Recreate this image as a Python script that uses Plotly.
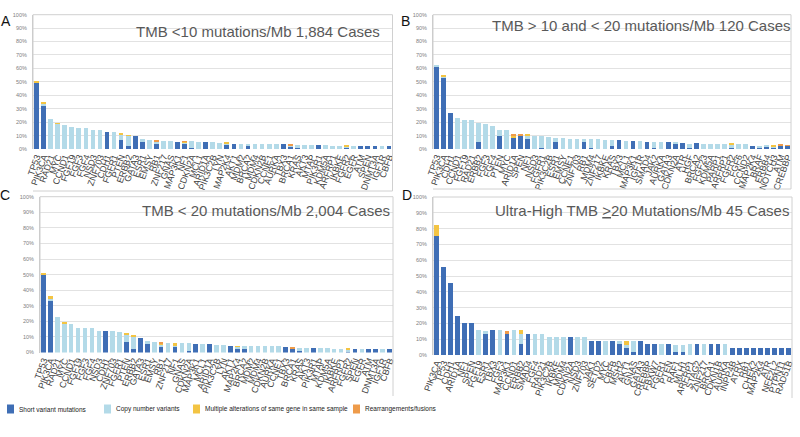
import plotly.graph_objects as go

# ---------------- DATA ----------------
genes_a = ["TP53","PIK3CA","RAD21","MYC","CCND1","FGF19","FGF3","FGF4","NSD3","ZNF703","CDH1","FGFR1","PTEN","ERBB2","GATA3",
           "ESR1","EMSY","RB1","ZNF217","GNAS","MAP3K1","NF1","CDKN2A","MCL1","ARID1A","PIK3C2B","LYN","MAP2K4","AKT1","MDM2",
           "BRCA2","MDM4","CDKN2B","CCNE1","AURKA","TBX3","BRCA1","KRAS","AKT3","MTAP","PIK3R1","KDM5A","ARFRP1","IKBKE","FGFR2",
           "EGFR","ATM","SPEN","DNMT3A","IGF1R","CBFB"]
short_a = [50,32,0,0,0,0,0,0,0,0,13,0,7,2.5,9.5,5.5,0,3.5,0,0,5.5,4,1,0,5,0,0,3,4,0,3,0,0,0,0,3.5,2,1,0,0,3,0,0,0,0.5,0,2.5,2.5,2,0,2]
cnv_a   = [0,1.5,22.5,19,18,16.5,16,16,14.5,14,0,13,4,7.5,0,2,7,2,6,6,0,1,5,5.5,0,5,4.5,1.5,0,4,1,4,4,4,4,0,1,2,3,3,0,3,2.5,2.5,1.5,2.5,0,0,0,2,0]
multi_a = [0.3,1.5,0,0.3,0,0,0,0,0,0,0,0,1,0.5,0,0,0,0.5,0,0,0,0.7,0,0,0,0,0,0.3,0,0,0,0,0,0,0,0,0,0,0,0,0,0,0,0,0.5,0,0,0,0,0,0]
rearr_a = [0,0,0,0,0,0,0,0,0,0,0,0,0,0,0,0,0,0.5,0,0,0,0.3,0,0,0,0,0,0,0,0,0,0,0,0,0,0,0.5,0,0,0,0,0,0,0,0,0,0,0,0,0,0]

genes_b = ["TP53","PIK3CA","CDH1","CCND1","FGF19","RAD21","ERBB2","FGF3","FGF4","PTEN","MYC","ARID1A","SPEN","NF1","NSD3",
           "FGFR1","PIK3C2B","ESR1","EMSY","CCNE1","ZNF703","RB1","MDM4","ZNF217","IKBKE","KRAS","TBX3","MCL1","MAP3K1","IGF1R",
           "SMAD4","JAK2","AURKA","GATA3","CDKN2A","ATR","HGF","BRCA2","FGF23","KDM5A","PARP1","ARFRP1","FGFR2","FGF6","CCND2",
           "MAP2K4","BRAF","ERBB4","NOTCH3","ATM","CREBBP"]
short_b = [62,52.5,27,0,0,0,5.5,0,0,10,0,8.5,10,7.5,0,0.5,0,5,0,0,0,5.5,0.5,0,0,2.5,6.5,0,6,0,5.5,1,0,5,4,4.5,0.5,4.5,0,0,0,0,1,0,0,2.5,1.5,2,0.5,2.5,2.5]
cnv_b   = [0.5,1.5,0,23,21.5,21.5,14,18.5,17.5,4,14,0.5,0,2.5,10,9.5,9,3,8,7.5,7.5,2,7,7.5,6.5,4,0,6,0,6,0,4,5,0,1,0,3.5,0,4,4,4,4,2,3.5,3.5,0,1,1,1.5,0,0]
multi_b = [0,1,0,0,0,0,0,0,0,0,0,1,0.5,1,0,0,0,0,0,0,0,0,0,0,0,0,0,0,0,0,0,0,0,0,0,0,0,0,0,0,0,0,1.5,0,0,0,0,0,1,0.5,0]
rearr_b = [0,0,0,0,0,0,0,0,0,0,0,1,0.5,0,0,0,0,0,0,0,0,0,0,0,0,0,0,0,0,0,0,0,0,0,0,0,0,0,0,0,0,0,0,0,0,0,0,0,0,0.3,0.5]

genes_c = ["TP53","PIK3CA","RAD21","MYC","CCND1","FGF19","FGF3","FGF4","NSD3","CDH1","ZNF703","FGFR1","PTEN","ERBB2","GATA3",
           "ESR1","EMSY","RB1","ZNF217","NF1","GNAS","CDKN2A","MAP3K1","MCL1","ARID1A","PIK3C2B","LYN","AKT1","MAP2K4","BRCA2",
           "MDM2","MDM4","CDKN2B","AURKA","CCNE1","TBX3","BRCA1","KRAS","AKT3","PIK3R1","MTAP","KDM5A","IKBKE","ARFRP1","FGFR2",
           "SPEN","EGFR","ATM","DNMT3A","IGF1R","CBFB"]
short_c = [50,33,0,0,0,0,0,0,0,13.5,0,0,7,2.5,9.5,5.5,0,3.5,0,4,0,1,5.5,0,5.5,0,0,4,3,3,0,0,0,0,0,3.5,2.5,1,0,3,0,0,0,0,0.5,2.5,0,2.5,2.5,0,2]
cnv_c   = [0.5,1.5,22.5,19,18,16,15.5,15.5,14,0,13.5,13,5,8,0,2,7,2,6,1,6,5,0,5.5,0,5,4.5,0,1,1,4,4,4,4,4,0,0.5,2,3,0,3,3,2.5,2.5,1.5,0,2.5,0,0,2,0]
multi_c = [0.5,1.5,0,0.3,0,0,0,0,0,0,0,0,0.5,0.3,0,0,0,0.5,0,1,0,0,0,0,0,0,0,0,0.3,0,0,0,0,0,0,0,0,0,0,0,0,0,0,0,0.5,0,0,0,0,0,0]
rearr_c = [0,0,0,0,0,0,0,0,0,0,0,0,0,0,0,0,0,0.5,0,0,0,0,0,0,0,0,0,0,0,0,0,0,0,0,0,0,0.5,0,0,0,0,0,0,0,0,0,0,0,0,0,0]

genes_d = ["PIK3CA","TP53","CDH1","ARID1A","NF1","SPEN","FGF19","ESR1","TBX3","FGF3","MAP3K1","CCND1","ERBB2","SMAD4","FGF4",
           "RAD21","PIK3C2B","IKBKE","MDM4","CDKN2A","NSD3","ZNF703","JAK1","SETD2","MYC","CBFB","MSH2","AKT1","GNAS","GATA3",
           "CREBBP","FBXW7","FGFR1","PTEN","RAF1","MLH1","ARFRP1","STAG2","ZNF217","BRCA1","CDKN1B","AURKA","INPP4B","ATRX","RB1",
           "CHEK2","MAP2K4","ATR","NFE2L2","PTPN11","RAD51B"]
short_d = [75.6,55.6,45.5,24.4,20,20,0,13.3,15.6,0,13.3,0,6.7,13.3,0,0,0,0,0,11.1,0,0,8.9,8.9,0,8.9,6.7,4.4,2.2,8.9,
           6.7,6.7,0,6.7,2.2,2.2,0,6.7,0,6.7,6.7,0,4.4,4.4,4.4,4.4,4.4,4.4,4.4,4.4,4.4]
cnv_d   = [0,0,0,0,0,0,15.6,2.2,0,15.6,0,15.6,6.7,0,13.3,13.3,11.1,11.1,11.1,0,11.1,11.1,0,0,8.9,0,2.2,2.2,6.7,0,
           0,0,6.7,0,4.4,4.4,6.7,0,6.7,0,0,6.7,0,0,0,0,0,0,0,0,0]
multi_d = [6.7,0,0,0,0,0,0,0,0,0,0,0,2.2,0,0,0,0,0,0,0,0,0,0,0,0,0,0,2.2,0,0,0,0,0,0,0,0,0,0,0,0,0,0,0,0,0,0,0,0,0,0,0]
rearr_d = [0,0,0,0,0,0,0,0,0,0,2.2,0,0,0,0,0,0,0,0,0,0,0,0,0,0,0,0,0,0,0,0,0,0,0,0,0,0,0,0,0,0,0,0,0,0,0,0,0,0,0,0]

titles = ["TMB &lt;10 mutations/Mb 1,884 Cases",
          "TMB &gt; 10 and &lt; 20 mutations/Mb 120 Cases",
          "TMB &lt; 20 mutations/Mb 2,004 Cases",
          "Ultra-High TMB <u>&gt;</u>20 Mutations/Mb 45 Cases"]
letters = ["A", "B", "C", "D"]
series_names = ["Short variant mutations", "Copy number variants",
                "Multiple alterations of same gene in same sample", "Rearrangements/fusions"]
colors = ["#3F6EB5", "#B3DAE8", "#F3C443", "#EE9B4A"]
y_ticks = list(range(0, 101, 10))

# ---------------- LAYOUT GEOMETRY (pixels) ----------------
W, H = 800, 437
def px(x):
    return x / W
def py(y):
    return 1 - y / H

# plot boxes: x0, x1, ytop(100%), ybottom(0%)
boxes = [(33, 392.5, 14.7, 149.0),
         (433, 791, 14.7, 149.0),
         (40, 393, 196.7, 352.5),
         (433, 792, 197.0, 355.0)]
border_bottom = [191, 189, 396, 398]
title_pos = [(258, 32), (641, 25), (266, 210), (642, 210)]
letter_pos = [(6, 21), (406, 21), (5, 195), (407, 195)]

panels = [
    (genes_a, [short_a, cnv_a, multi_a, rearr_a]),
    (genes_b, [short_b, cnv_b, multi_b, rearr_b]),
    (genes_c, [short_c, cnv_c, multi_c, rearr_c]),
    (genes_d, [short_d, cnv_d, multi_d, rearr_d]),
]

fig = go.Figure()
layout = dict(
    width=W, height=H, margin=dict(l=0, r=0, t=0, b=0),
    paper_bgcolor="white", plot_bgcolor="white",
    barmode="stack", bargap=0.33, showlegend=False,
    font=dict(family="Liberation Sans, Arial, sans-serif", color="#404040"),
)
shapes = []
annotations = []

for i, (genes, series) in enumerate(panels):
    k = "" if i == 0 else str(i + 1)
    xa, ya = "x" + k, "y" + k
    for name, vals, col in zip(series_names, series, colors):
        fig.add_trace(go.Bar(x=genes, y=vals, name=name, marker_color=col,
                             marker_line_width=0, xaxis=xa, yaxis=ya))
    x0, x1, yt, yb = boxes[i]
    layout["xaxis" + k] = dict(
        domain=[px(x0), px(x1)], anchor=ya, type="category",
        tickmode="array", tickvals=genes, ticktext=genes,
        tickangle=-70, tickfont=dict(size=9, color="#404040", family="Liberation Sans, Arial, sans-serif"),
        showline=False, showgrid=False, ticks="", automargin=False, fixedrange=True,
    )
    layout["yaxis" + k] = dict(
        domain=[py(yb), py(yt)], anchor=xa, range=[0, 100],
        tickmode="array", tickvals=y_ticks, ticktext=[f"{v}%" for v in y_ticks],
        tickfont=dict(size=5.5, color="#808080"), ticklabelstandoff=4,
        showgrid=True, gridcolor="#E2E2E2", gridwidth=1, zeroline=False,
        showline=True, linecolor="#C8C8C8", linewidth=1, ticks="", automargin=False, fixedrange=True,
    )
    # chart-area border
    bb = border_bottom[i]
    path = (f"M {px(x0)},{py(yb)} L {px(x0)},{py(yt)} L {px(x1)},{py(yt)} "
            f"L {px(x1)},{py(bb)}")
    if i < 2:
        path += f" L {px(x0)},{py(bb)}"
    shapes.append(dict(type="path", xref="paper", yref="paper", path=path,
                       line=dict(color="#D0D0D0", width=1)))
    tx, ty = title_pos[i]
    annotations.append(dict(text=titles[i], x=px(tx), y=py(ty), xref="paper", yref="paper",
                            xanchor="center", yanchor="middle", showarrow=False,
                            font=dict(size=15, color="#595959", family="Liberation Sans, Arial, sans-serif")))
    lx, ly = letter_pos[i]
    annotations.append(dict(text=letters[i], x=px(lx), y=py(ly), xref="paper", yref="paper",
                            xanchor="center", yanchor="middle", showarrow=False,
                            font=dict(size=14, color="#111111", family="Liberation Sans, Arial, sans-serif")))

# manual legend
leg_x = [7, 104, 193, 353]
leg_y = 409
for lx, name, col in zip(leg_x, series_names, colors):
    shapes.append(dict(type="rect", xref="paper", yref="paper",
                       x0=px(lx), x1=px(lx + 7), y0=py(leg_y + 4.5), y1=py(leg_y - 4.5),
                       fillcolor=col, line=dict(width=0)))
    annotations.append(dict(text=name, x=px(lx + 10), y=py(leg_y), xref="paper", yref="paper",
                            xanchor="left", yanchor="middle", showarrow=False,
                            font=dict(size=6.5, color="#222222",
                                      family="Liberation Sans, Arial, sans-serif")))

layout["shapes"] = shapes
layout["annotations"] = annotations
fig.update_layout(**layout)
fig.write_html("out.html")
